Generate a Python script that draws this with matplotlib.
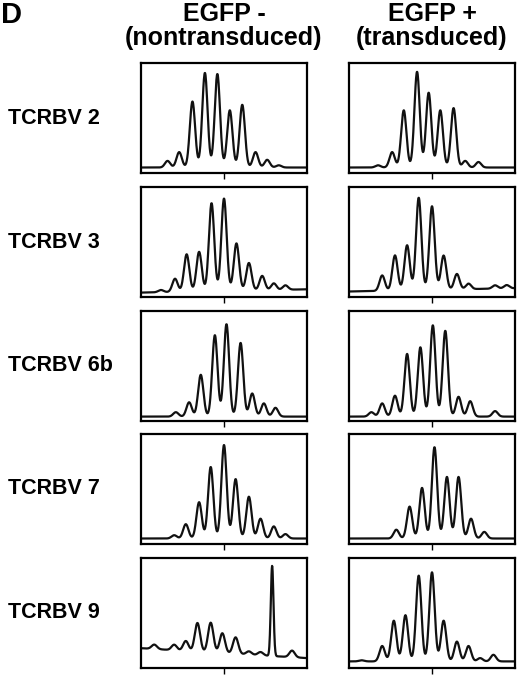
import numpy as np
import matplotlib.pyplot as plt

plt.rcParams['font.family'] = ['Liberation Sans', 'DejaVu Sans']

# row labels and column headers
rows = ['TCRBV 2', 'TCRBV 3', 'TCRBV 6b', 'TCRBV 7', 'TCRBV 9']
cols = ['EGFP -\n(nontransduced)', 'EGFP +\n(transduced)']

# peaks: (position as fraction of width, height as fraction of panel)
pos_2n = [0.16, 0.23, 0.31, 0.385, 0.46, 0.535, 0.61, 0.69, 0.76, 0.83]
hgt_2n = [0.06, 0.14, 0.60, 0.86, 0.85, 0.52, 0.57, 0.14, 0.07, 0.02]
pos_2t = [0.175, 0.26, 0.33, 0.41, 0.48, 0.55, 0.63, 0.70, 0.78]
hgt_2t = [0.02, 0.14, 0.52, 0.87, 0.68, 0.52, 0.54, 0.06, 0.05]
pos_3n = [0.12, 0.205, 0.275, 0.35, 0.425, 0.50, 0.575, 0.65, 0.73, 0.80, 0.87]
hgt_3n = [0.02, 0.12, 0.34, 0.36, 0.80, 0.84, 0.43, 0.25, 0.13, 0.06, 0.04]
pos_3t = [0.20, 0.277, 0.35, 0.42, 0.50, 0.57, 0.65, 0.72, 0.88, 0.95]
hgt_3t = [0.14, 0.32, 0.41, 0.84, 0.76, 0.31, 0.14, 0.05, 0.03, 0.03]
pos_6n = [0.21, 0.29, 0.36, 0.445, 0.515, 0.60, 0.67, 0.74, 0.81]
hgt_6n = [0.04, 0.13, 0.38, 0.74, 0.84, 0.67, 0.21, 0.12, 0.08]
pos_6t = [0.135, 0.20, 0.277, 0.35, 0.43, 0.505, 0.58, 0.66, 0.73, 0.88]
hgt_6t = [0.04, 0.12, 0.19, 0.57, 0.63, 0.83, 0.78, 0.18, 0.14, 0.05]
pos_7n = [0.20, 0.27, 0.35, 0.42, 0.50, 0.57, 0.65, 0.72, 0.80, 0.87]
hgt_7n = [0.03, 0.13, 0.33, 0.65, 0.85, 0.54, 0.38, 0.18, 0.11, 0.04]
pos_7t = [0.285, 0.365, 0.44, 0.515, 0.59, 0.66, 0.735, 0.815]
hgt_7t = [0.08, 0.29, 0.46, 0.83, 0.56, 0.56, 0.18, 0.06]
pos_9n = [0.08, 0.20, 0.27, 0.34, 0.42, 0.49, 0.57, 0.65, 0.72, 0.79, 0.91]
hgt_9n = [0.04, 0.05, 0.09, 0.26, 0.27, 0.18, 0.15, 0.03, 0.03, 0.82, 0.06]
pos_9t = [0.076, 0.20, 0.27, 0.34, 0.42, 0.50, 0.57, 0.65, 0.72, 0.79, 0.87]
hgt_9t = [0.01, 0.14, 0.37, 0.42, 0.78, 0.81, 0.37, 0.18, 0.14, 0.03, 0.06]

peaks = [[(pos_2n, hgt_2n), (pos_2t, hgt_2t)],
         [(pos_3n, hgt_3n), (pos_3t, hgt_3t)],
         [(pos_6n, hgt_6n), (pos_6t, hgt_6t)],
         [(pos_7n, hgt_7n), (pos_7t, hgt_7t)],
         [(pos_9n, hgt_9n), (pos_9t, hgt_9t)]]
# baseline level at left and right edge
base = [[(0.05, 0.05), (0.05, 0.05)],
        [(0.04, 0.07), (0.05, 0.08)],
        [(0.04, 0.04), (0.04, 0.04)],
        [(0.05, 0.05), (0.05, 0.05)],
        [(0.18, 0.09), (0.06, 0.06)]]

fig = plt.figure(figsize=(5.2, 6.78), dpi=100)
W, H = 520, 678
lefts = [141, 349]
tops = [63, 187, 311, 434, 558]
pw, ph = 166, 110

x = np.linspace(0, 1, 600)
for r, top in enumerate(tops):
    for c, left in enumerate(lefts):
        ax = fig.add_axes([left / W, 1 - (top + ph) / H, pw / W, ph / H])
        p, h = peaks[r][c]
        b0, b1 = base[r][c]
        y = b0 + (b1 - b0) * x
        for pi, hi in zip(p, h):
            s = 0.008 if (r == 4 and c == 0 and hi > 0.8) else 0.016
            y = y + hi * np.exp(-0.5 * ((x - pi) / s) ** 2)
        ax.plot(x, y, color='#111111', lw=1.6)
        ax.set_xlim(0, 1)
        ax.set_ylim(0, 1)
        ax.set_xticks([0.5])
        ax.set_xticklabels([])
        ax.set_yticks([])
        ax.tick_params(axis='x', direction='out', length=4, width=1)
        for sp in ax.spines.values():
            sp.set_linewidth(1.6)
    fig.text(8 / W, 1 - (top + ph / 2) / H, rows[r], fontsize=15.5,
             fontweight='bold', ha='left', va='center')

for c, left in enumerate(lefts):
    fig.text((left + pw / 2) / W, 1 - 2 / H, cols[c], fontsize=18,
             fontweight='bold', ha='center', va='top', linespacing=1.0)
fig.text(1 / W, 1 - 1 / H, 'D', fontsize=21, fontweight='bold',
         ha='left', va='top')

fig.savefig('out.png', dpi=100)
